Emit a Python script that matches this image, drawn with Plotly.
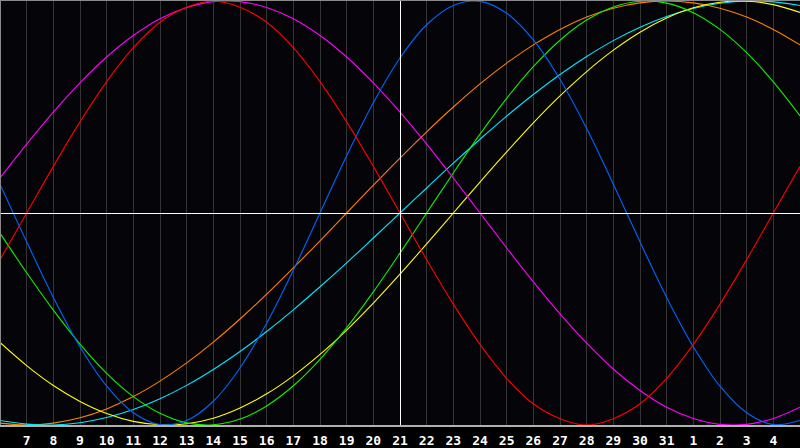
import plotly.graph_objects as go

# Day index 0..30 (index 0 = day 6, index 15 = day 21 centre, index 30 = day 5 of next month)
day_index = list(range(31))
tick_index = list(range(1, 30))
tick_labels = ["7", "8", "9", "10", "11", "12", "13", "14", "15", "16", "17", "18",
               "19", "20", "21", "22", "23", "24", "25", "26", "27", "28", "29", "30",
               "31", "1", "2", "3", "4"]

# Values (range -1 .. 1) for each day index
red = [-0.22, 0, 0.22, 0.43, 0.62, 0.78, 0.90, 0.97, 1.00, 0.97, 0.90, 0.78, 0.62, 0.43,
       0.22, 0, -0.22, -0.43, -0.62, -0.78, -0.90, -0.97, -1.00, -0.97, -0.90, -0.78,
       -0.62, -0.43, -0.22, 0, 0.22]
magenta = [0.165, 0.325, 0.476, 0.614, 0.736, 0.837, 0.916, 0.969, 0.997, 0.997, 0.969,
           0.916, 0.837, 0.736, 0.614, 0.476, 0.325, 0.165, 0, -0.165, -0.325, -0.476,
           -0.614, -0.736, -0.837, -0.916, -0.969, -0.997, -0.997, -0.969, -0.916]
blue = [0.136, -0.136, -0.398, -0.631, -0.817, -0.942, -0.998, -0.979, -0.888, -0.731,
        -0.520, -0.270, 0, 0.270, 0.520, 0.731, 0.888, 0.979, 0.998, 0.942, 0.817, 0.631,
        0.398, 0.136, -0.136, -0.398, -0.631, -0.817, -0.942, -0.998, -0.979]
orange = [-0.991, -1.0, -0.991, -0.966, -0.924, -0.866, -0.793, -0.707, -0.609, -0.5,
          -0.383, -0.259, -0.131, 0, 0.131, 0.259, 0.383, 0.5, 0.609, 0.707, 0.793, 0.866,
          0.924, 0.966, 0.991, 1.0, 0.991, 0.966, 0.924, 0.866, 0.793]
cyan = [-0.979, -0.996, -1.0, -0.989, -0.965, -0.927, -0.876, -0.813, -0.738, -0.653,
        -0.559, -0.457, -0.348, -0.235, -0.118, 0, 0.118, 0.235, 0.348, 0.457, 0.559,
        0.653, 0.738, 0.813, 0.876, 0.927, 0.965, 0.989, 1.0, 0.996, 0.979]
green = [-0.095, -0.282, -0.458, -0.618, -0.756, -0.866, -0.945, -0.990, -0.999, -0.972,
         -0.910, -0.815, -0.690, -0.541, -0.372, -0.189, 0, 0.189, 0.372, 0.541, 0.690,
         0.815, 0.910, 0.972, 0.999, 0.990, 0.945, 0.866, 0.756, 0.618, 0.458]
yellow = [-0.611, -0.720, -0.814, -0.889, -0.946, -0.983, -0.999, -0.994, -0.968, -0.920,
          -0.853, -0.768, -0.667, -0.552, -0.425, -0.288, -0.146, 0, 0.146, 0.288, 0.425,
          0.552, 0.667, 0.768, 0.853, 0.920, 0.968, 0.994, 0.999, 0.983, 0.946]

series = [
    ("orange", orange, "#ff8000"),
    ("cyan", cyan, "#00e8ff"),
    ("yellow", yellow, "#ffff00"),
    ("green", green, "#10f000"),
    ("magenta", magenta, "#ff00ff"),
    ("blue", blue, "#0066ff"),
    ("red", red, "#ff0000"),
]

fig = go.Figure()
for name, vals, col in series:
    fig.add_trace(go.Scatter(x=day_index, y=vals, mode="lines", name=name,
                             line=dict(color=col, width=1.1, shape="spline", smoothing=1.0),
                             hoverinfo="skip"))

shapes = [
    # centre lines (offset half a pixel so they render crisp)
    dict(type="line", xref="paper", yref="paper", x0=400.5 / 800, x1=400.5 / 800, y0=0, y1=1,
         line=dict(color="#ffffff", width=1), layer="above"),
    dict(type="line", xref="paper", yref="paper", x0=0, x1=1,
         y0=(428 - 214.5) / 428, y1=(428 - 214.5) / 428,
         line=dict(color="#ffffff", width=1), layer="above"),
    # borders
    dict(type="line", xref="paper", yref="paper", x0=0, x1=0, y0=0, y1=1,
         line=dict(color="#8a8a8a", width=2)),
    dict(type="line", xref="paper", yref="paper", x0=0, x1=1, y0=1, y1=1,
         line=dict(color="#8a8a8a", width=2)),
    dict(type="line", xref="paper", yref="paper", x0=0, x1=1, y0=0, y1=0,
         line=dict(color="#b0b0b0", width=2)),
]

fig.update_layout(
    width=800, height=448,
    margin=dict(l=0, r=0, t=0, b=20),
    paper_bgcolor="#000000",
    plot_bgcolor="#050408",
    showlegend=False,
    shapes=shapes,
    xaxis=dict(range=[0, 30], tickvals=tick_index, ticktext=tick_labels,
               showgrid=True, gridcolor="#353535", gridwidth=1, zeroline=False,
               ticks="outside", ticklen=2, tickcolor="rgba(0,0,0,0)",
               tickfont=dict(family="DejaVu Sans Mono", size=13, color="#ffffff",
                             weight="bold"),
               fixedrange=True),
    yaxis=dict(range=[-1.0047, 1.0047], showgrid=False, zeroline=False,
               showticklabels=False, fixedrange=True),
)

fig.write_html("out.html", config={"displayModeBar": False},
               post_script="document.body.style.margin='0';document.body.style.overflow='hidden';")
